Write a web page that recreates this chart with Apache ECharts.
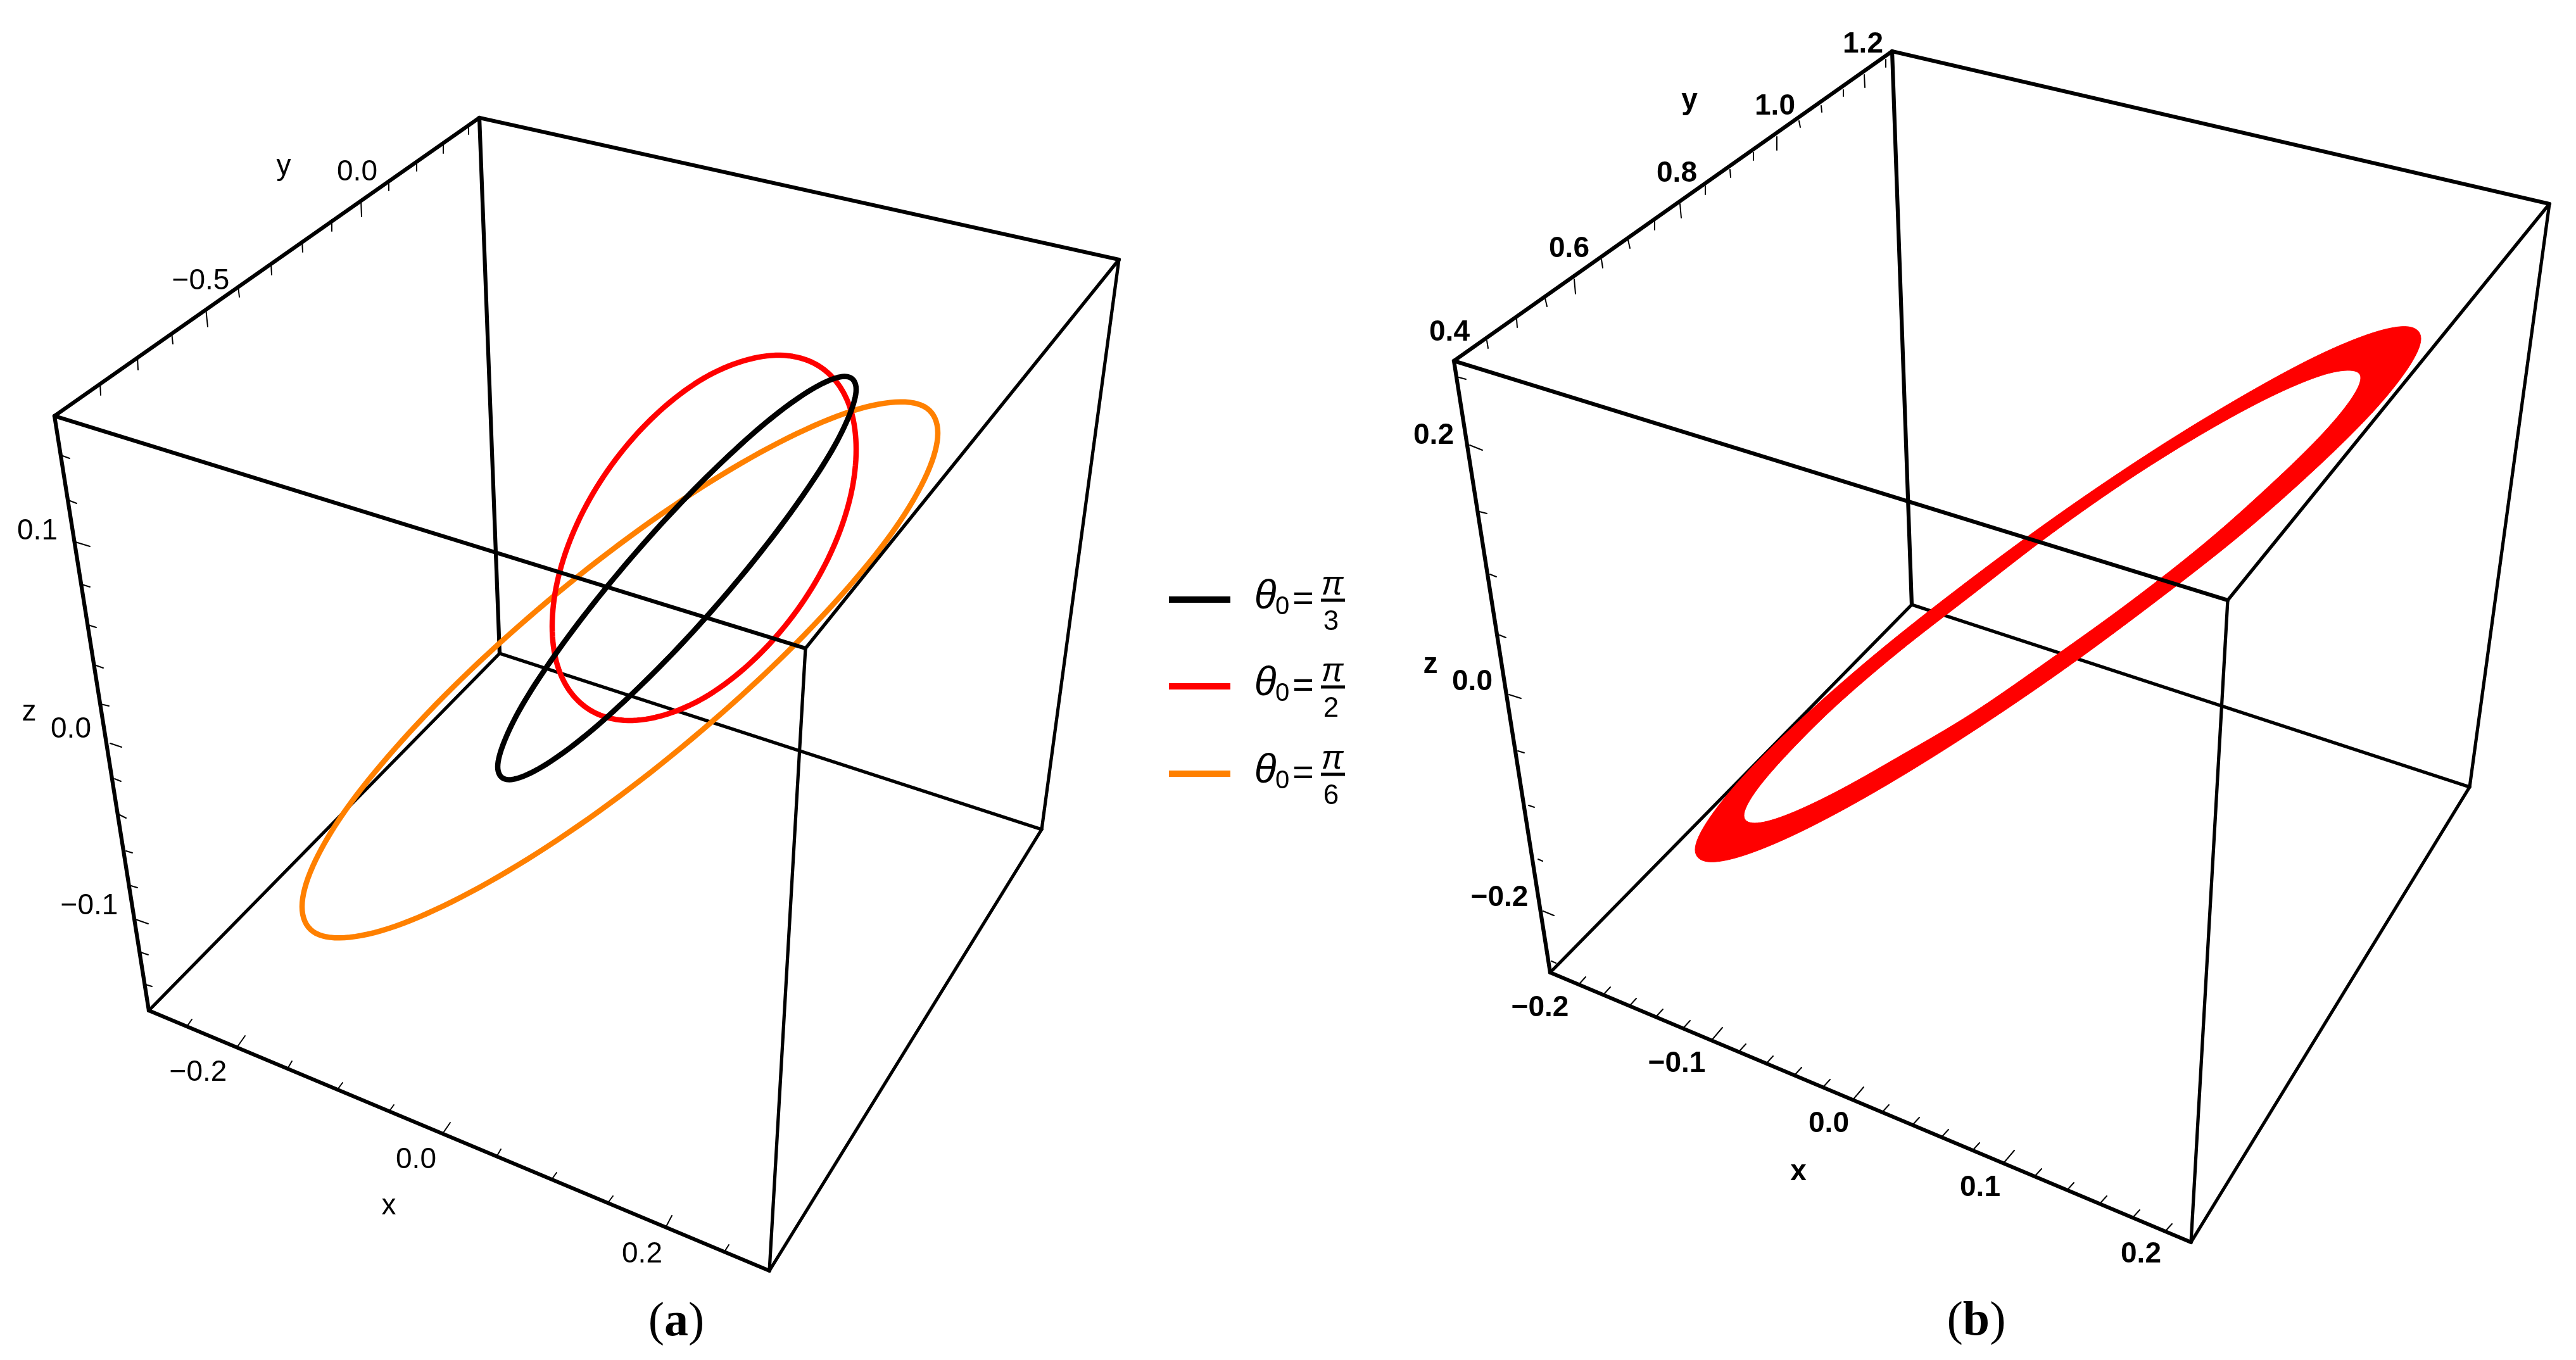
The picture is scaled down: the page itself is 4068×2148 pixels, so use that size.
<!DOCTYPE html>
<html><head><meta charset="utf-8">
<style>html,body{margin:0;padding:0;background:#fff}#chart{width:4068px;height:2148px}</style>
<script src="https://cdn.jsdelivr.net/npm/echarts@6/dist/echarts.min.js"></script>
</head><body><div id="chart"></div>
<script>
// All values are estimates, in its picture-plane units;
// the curve readings were smoothed by hand before being typed in here.
const cornersA = {TB:[757,186],TL:[86,657],TR:[1767,410],TF:[1272,1024],BB:[789,1032],BL:[235,1596],BF:[1215,2007],BR:[1645,1310]};
const cornersB = {TB:[2988,81],TL:[2296,570],TR:[4026,322],TF:[3518,948],BB:[3019,955],BL:[2448,1536],BF:[3460,1962],BR:[3900,1243]};

const curveBlack = [[1352,615],[1342,596],[1314,599],[1269,623],[1210,667],[1142,728],[1069,801],[996,882],[928,965],[869,1045],[824,1115],[796,1172],[786,1211],[796,1230],[824,1227],[869,1203],[928,1159],[996,1098],[1069,1025],[1142,944],[1210,861],[1269,781],[1314,711],[1342,654]];
const curveRed = [[1352,710],[1344,649],[1320,602],[1282,572],[1232,561],[1174,570],[1112,597],[1050,642],[992,701],[942,770],[904,844],[880,919],[872,989],[880,1050],[904,1097],[942,1127],[992,1138],[1050,1129],[1112,1102],[1174,1057],[1232,998],[1282,929],[1320,855],[1344,780]];
const curveOrange = [[1481,684],[1464,645],[1414,635],[1334,653],[1230,699],[1109,769],[979,859],[849,963],[728,1073],[624,1182],[544,1282],[494,1368],[477,1432],[494,1471],[544,1481],[624,1463],[728,1417],[849,1347],[979,1257],[1109,1153],[1230,1043],[1334,934],[1414,834],[1464,748]];

const bandOuter = [[3823,535],[3803,516],[3746,526],[3655,564],[3537,628],[3398,713],[3250,813],[3102,922],[2964,1031],[2845,1135],[2754,1225],[2697,1296],[2677,1342],[2697,1361],[2754,1351],[2845,1313],[2964,1249],[3102,1164],[3250,1064],[3398,955],[3537,846],[3655,742],[3746,652],[3803,581]];
const bandInner = [[3728,597],[3711,585],[3663,594],[3585,627],[3485,681],[3367,754],[3241,842],[3115,939],[2997,1031],[2897,1117],[2819,1195],[2771,1252],[2754,1288],[2771,1300],[2819,1288],[2897,1252],[2997,1196],[3115,1126],[3241,1039],[3367,948],[3485,855],[3585,766],[3663,690],[3711,633]];

const ticksA = [
 [740,200,740,212],[700,227,700,242],[658,256,658,270],[614,285,614,301],[570,316,571,342],[524,347,524,365],[477,380,478,398],[428,416,429,434],[376,452,378,469],[325,487,328,516],[271,525,273,543],[217,564,218,584],[158,605,159,624],
 [99,720,110,724],[108,790,121,795],[119,856,142,863],[129,923,142,927],[139,987,152,991],[149,1050,163,1055],[159,1112,172,1115],[174,1174,192,1180],[181,1230,191,1234],[189,1287,199,1292],[199,1344,209,1347],[207,1399,217,1402],[214,1452,234,1459],[222,1504,234,1508],[230,1555,240,1558],
 [296,1620,303,1610],[375,1653,387,1636],[454,1688,461,1676],[532,1722,541,1710],[614,1756,622,1745],[698,1792,711,1773],[784,1827,791,1815],[871,1863,879,1852],[959,1901,968,1889],[1051,1939,1061,1920],[1144,1977,1151,1966]];
const ticksB = [
 [2978,94,2978,106],[2944,118,2945,138],[2911,142,2911,152],[2876,167,2877,177],[2841,191,2843,201],[2806,216,2806,237],[2769,241,2769,253],[2732,268,2733,280],[2693,294,2693,307],[2653,322,2655,344],[2613,350,2613,363],[2571,379,2574,392],[2529,410,2531,423],[2486,441,2488,464],[2440,471,2443,484],[2395,504,2396,517],[2348,538,2350,550],
 [2300,595,2315,599],[2321,703,2341,711],[2336,808,2348,811],[2353,907,2363,911],[2368,1003,2378,1007],[2383,1097,2402,1103],[2397,1186,2407,1189],[2414,1272,2423,1275],[2429,1357,2436,1360],[2437,1439,2454,1446],[2450,1518,2457,1521],
 [2493,1555,2504,1543],[2532,1571,2543,1559],[2573,1589,2584,1577],[2615,1606,2626,1594],[2658,1624,2669,1612],[2703,1643,2720,1623],[2746,1661,2757,1649],[2789,1680,2800,1668],[2834,1698,2845,1686],[2879,1717,2890,1705],[2926,1737,2943,1717],[2972,1757,2983,1745],[3020,1777,3031,1765],[3066,1796,3077,1784],[3115,1817,3126,1805],[3164,1837,3181,1817],[3213,1858,3224,1846],[3264,1880,3275,1868],[3316,1901,3327,1889],[3368,1923,3379,1911],[3419,1945,3430,1933]];

const labelsA = [['y',448,263],['0.0',564,272],['−0.5',317,444],['0.1',59,839],['z',46,1125],['0.0',112,1152],['−0.1',141,1431],['−0.2',313,1694],['0.0',657,1832],['x',614,1905],['0.2',1014,1981]];
const labelsB = [['1.2',2942,70],['y',2668,159],['1.0',2803,168],['0.8',2648,274],['0.6',2478,393],['0.4',2289,525],['0.2',2264,688],['z',2259,1050],['0.0',2325,1077],['−0.2',2368,1418],['−0.2',2432,1592],['−0.1',2648,1680],['0.0',2888,1775],['x',2840,1851],['0.1',3127,1876],['0.2',3381,1981]];
const captions = [['a',1068,2089],['b',3121,2088]];

const legendNames = ['θ0=π/3','θ0=π/2','θ0=π/6'];
const legendColors = ['#000000','#ff0000','#ff8000'];
const legendDenoms = ['3','2','6'];
const legendRowY = [947,1084,1222];
const legendLineX = [1846,1943];

const HEAVY = 6.2, THIN = 5.2;
const edge = (c,a,b)=>[c[a][0],c[a][1],c[b][0],c[b][1]];
const edges = (pairs)=>[cornersA,cornersB].flatMap(c=>pairs.map(p=>edge(c,p[0],p[1])));

function segments(name,data,width,z){
  return {name,type:'custom',coordinateSystem:'cartesian2d',silent:true,clip:false,z,data,
    encode:{x:[0,2],y:[1,3]},
    renderItem(params,api){
      const d=data[params.dataIndex], a=api.coord([d[0],d[1]]), b=api.coord([d[2],d[3]]);
      return {type:'line',shape:{x1:a[0],y1:a[1],x2:b[0],y2:b[1]},style:{stroke:'#000',lineWidth:width,lineCap:'round'}};
    }};
}
function texts(name,items,style,z){
  return {name,type:'custom',coordinateSystem:'cartesian2d',silent:true,clip:false,z:z||9,
    data:items.map(d=>[d[1],d[2]]),encode:{x:0,y:1},
    renderItem(params,api){
      const d=items[params.dataIndex], c=api.coord([d[1],d[2]]);
      return {type:'text',x:c[0],y:c[1],style:Object.assign({text:d[0],fill:'#000',align:'center',verticalAlign:'middle'},style)};
    }};
}
// Rendering-only rounding of a closed outline (same idea as a line series' smooth).
function rounded(pts){
  const out=[], n=pts.length, k=8;
  for(let i=0;i<n;i++){
    const p0=pts[(i+n-1)%n],p1=pts[i],p2=pts[(i+1)%n],p3=pts[(i+2)%n];
    for(let j=0;j<k;j++){
      const t=j/k,t2=t*t,t3=t2*t;
      out.push([0,1].map(a=>0.5*(2*p1[a]+(p2[a]-p0[a])*t+(2*p0[a]-5*p1[a]+4*p2[a]-p3[a])*t2+(3*p1[a]-p0[a]-3*p2[a]+p3[a])*t3)));
    }
  }
  return out;
}
function closedCurve(name,pts,color){
  return {name,type:'custom',coordinateSystem:'cartesian2d',silent:true,clip:false,z:4,
    data:pts,encode:{x:0,y:1},
    renderItem(params,api){
      if(params.dataIndex!==0) return null;
      const r=rounded(pts.map(p=>api.coord(p)));
      return {type:'polygon',shape:{points:r},style:{fill:null,stroke:color,lineWidth:8.5,lineJoin:'round'}};
    }};
}
function bandPath(api){
  const o=rounded(bandOuter.map(p=>api.coord(p))), i=rounded(bandInner.map(p=>api.coord(p))).reverse();
  return o.concat([o[0]],[i[i.length-1]],i,[o[0]]);
}

const legendSeries = legendRowY.flatMap((y,i)=>[
  {name:legendNames[i],type:'line',data:legendLineX.map(x=>[x,y]),symbol:'none',silent:true,z:5,lineStyle:{color:legendColors[i],width:10,cap:'butt'}},
  {name:'bar'+i,type:'line',data:[[2086,y+1],[2124,y+1]],symbol:'none',silent:true,z:5,lineStyle:{color:'#000',width:5,cap:'butt'}},
  texts('theta'+i,[['θ',1998,y-4]],{font:'italic 64px "Liberation Sans"'}),
  texts('sub'+i,[['0',2025,y+12]],{font:'40px "Liberation Sans"'}),
  texts('eq'+i,[['=',2058,y+1]],{font:'58px "Liberation Sans"'}),
  texts('pi'+i,[['π',2104,y-22]],{font:'italic 52px "Liberation Sans"'}),
  texts('den'+i,[[legendDenoms[i],2102,y+36]],{font:'44px "Liberation Sans"'})
]);

const chart = echarts.init(document.getElementById('chart'),null,{renderer:'canvas',width:4068,height:2148});
chart.setOption({
  animation:false,backgroundColor:'#fff',
  grid:{left:0,right:0,top:0,bottom:0},
  xAxis:{type:'value',min:0,max:4068,show:false},
  yAxis:{type:'value',min:0,max:2148,inverse:true,show:false},
  series:[
    segments('box back heavy',edges([['TB','BB'],['TB','TR']]),HEAVY,2),
    segments('box back thin',edges([['BB','BL'],['BB','BR']]),THIN,2),
    closedCurve('orange curve',curveOrange,'#ff8000'),
    closedCurve('red curve',curveRed,'#ff0000'),
    closedCurve('black curve',curveBlack,'#000000'),
    {name:'red band',type:'custom',coordinateSystem:'cartesian2d',silent:true,clip:false,z:4,
      data:bandOuter,encode:{x:0,y:1},
      renderItem(params,api){
        if(params.dataIndex!==0) return null;
        return {type:'polygon',shape:{points:bandPath(api)},style:{fill:'#ff0000',stroke:'#ff0000',lineWidth:1}};
      }},
    segments('box front heavy',edges([['TB','TL'],['TL','BL'],['BL','BF'],['TL','TF']]),HEAVY,6),
    segments('box front thin',edges([['TF','TR'],['TF','BF'],['BF','BR'],['TR','BR']]),THIN,6),
    segments('ticks a',ticksA,2,6),
    segments('ticks b',ticksB,2,6),
    texts('labels a',labelsA,{font:'46px "Liberation Sans"'}),
    texts('labels b',labelsB,{font:'bold 46px "Liberation Sans"'}),
    ...captions.map(c=>({name:'caption '+c[0],type:'custom',coordinateSystem:'cartesian2d',silent:true,clip:false,z:9,
      data:[[c[1],c[2]]],encode:{x:0,y:1},
      renderItem(params,api){
        const p=api.coord([c[1],c[2]]);
        return {type:'text',x:p[0],y:p[1],style:{text:'{p|(}{b|'+c[0]+'}{p|)}',align:'center',verticalAlign:'middle',
          rich:{p:{font:'76px "Liberation Serif"',fill:'#000'},b:{font:'bold 76px "Liberation Serif"',fill:'#000'}}}};
      }})),
    ...legendSeries
  ]
});
</script></body></html>
